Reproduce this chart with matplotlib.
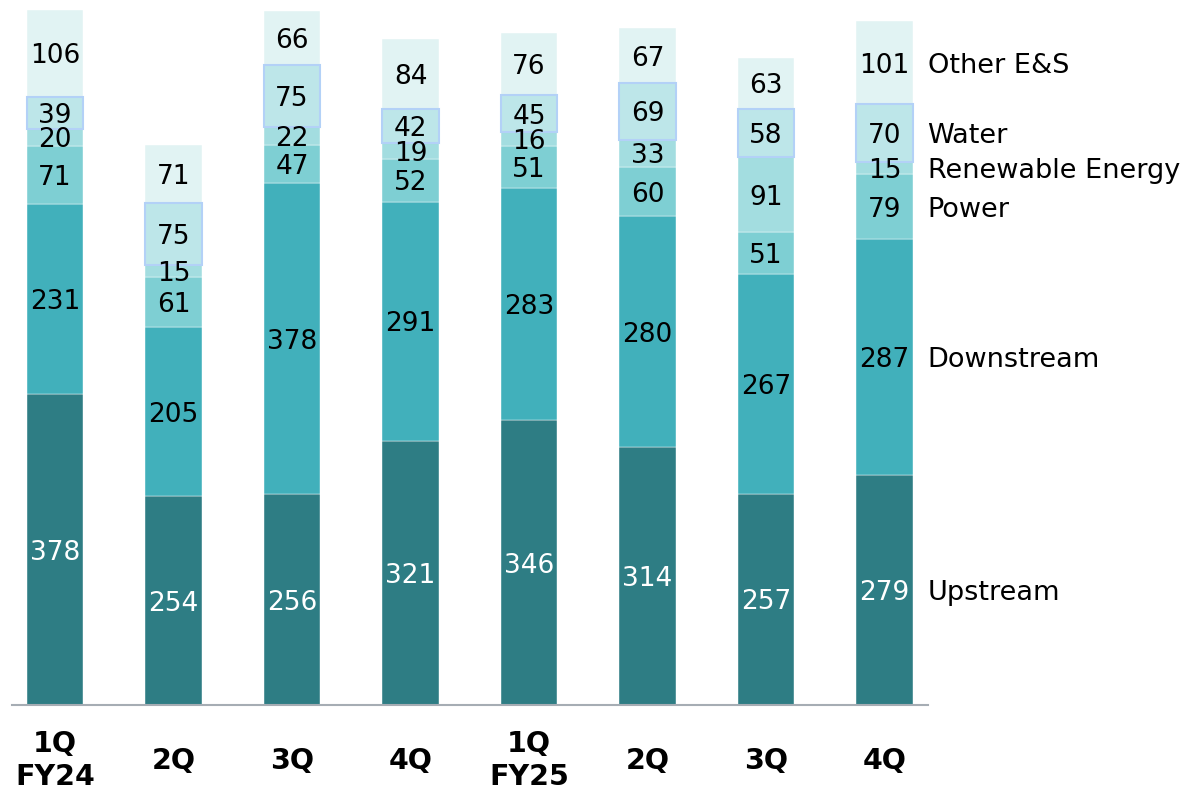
import matplotlib.pyplot as plt
import numpy as np

# quarterly figures by segment (bottom to top)
quarters = ["1Q\nFY24", "2Q", "3Q", "4Q", "1Q\nFY25", "2Q", "3Q", "4Q"]
segments = ["Upstream", "Downstream", "Power", "Renewable Energy", "Water", "Other E&S"]
upstream = [378, 254, 256, 321, 346, 314, 257, 279]
downstream = [231, 205, 378, 291, 283, 280, 267, 287]
power = [71, 61, 47, 52, 51, 60, 51, 79]
renewable = [20, 15, 22, 19, 16, 33, 91, 15]
water = [39, 75, 75, 42, 45, 69, 58, 70]
other = [106, 71, 66, 84, 76, 67, 63, 101]

colors = ["#2e7d84", "#41b0bb", "#7ecfd3", "#a3dde0", "#bde6e9", "#e1f3f3"]
text_colors = ["white", "black", "black", "black", "black", "black"]

plt.rcParams['font.family'] = ['DejaVu Sans']

fig = plt.figure(figsize=(11.83, 7.92), dpi=100)
ax = fig.add_axes([12 / 1183, 87 / 792, 916 / 1183, 705 / 792])

x = np.arange(len(quarters))
width = 0.473
data = [upstream, downstream, power, renewable, water, other]
bottom = np.zeros(len(quarters))
for vals, col, tc, name in zip(data, colors, text_colors, segments):
    vals = np.array(vals)
    if name == "Water":
        ax.bar(x, vals, width, bottom=bottom, color=col, edgecolor="#b3d1f7", linewidth=1.5, zorder=3)
    else:
        ax.bar(x, vals, width, bottom=bottom, color=col, edgecolor="white", linewidth=0.3, zorder=2)
    for xi, b, v in zip(x, bottom, vals):
        ax.text(xi, b + v / 2, str(v), ha="center", va="center_baseline", fontsize=19, color=tc, zorder=4)
    # segment name next to the last bar
    ax.text(x[-1] + width / 2 + 0.127, bottom[-1] + vals[-1] / 2, name, ha="left",
            va="center_baseline", fontsize=19.5, clip_on=False)
    bottom = bottom + vals

ax.set_xlim(-0.363, 7.367)
ax.set_ylim(0, 857)
ax.set_yticks([])
ax.set_xticks(x)
ax.set_xticklabels(quarters, fontsize=20.5, fontweight="bold", va="center", linespacing=1.2)
ax.tick_params(axis="x", length=0, pad=40)
for s in ["top", "right", "left"]:
    ax.spines[s].set_visible(False)
ax.spines["bottom"].set_color("#a6adb4")
ax.spines["bottom"].set_linewidth(1.5)

fig.savefig("out.png", dpi=100)
